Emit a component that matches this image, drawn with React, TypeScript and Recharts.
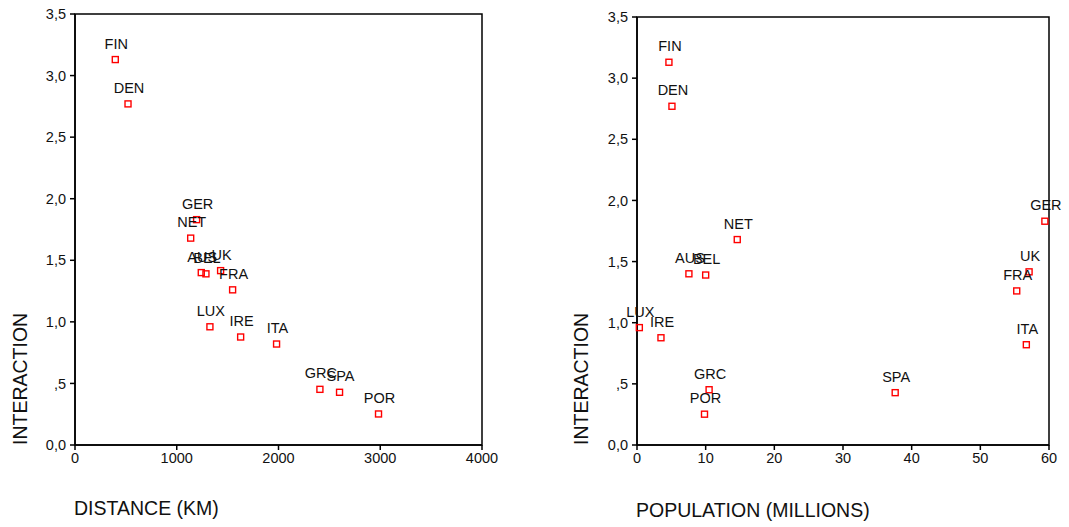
import { ScatterChart, Scatter, XAxis, YAxis, ReferenceArea } from "recharts";

const countries = ["FIN", "DEN", "GER", "NET", "AUS", "BEL", "UK", "FRA", "LUX", "IRE", "ITA", "GRC", "SPA", "POR"];
const interaction = [3.13, 2.77, 1.83, 1.68, 1.4, 1.39, 1.416, 1.26, 0.96, 0.877, 0.82, 0.452, 0.428, 0.252];
const distanceKm = [396, 521, 1195, 1137, 1241, 1287, 1431, 1549, 1326, 1628, 1981, 2407, 2600, 2983];
const populationM = [4.65, 5.09, 59.4, 14.6, 7.56, 10.0, 57.1, 55.3, 0.34, 3.49, 56.7, 10.5, 37.6, 9.83];

const yTicks = [0, 0.5, 1, 1.5, 2, 2.5, 3, 3.5];
const yTickLabels = ["0,0", ",5", "1,0", "1,5", "2,0", "2,5", "3,0", "3,5"];
const distanceTicks = [0, 1000, 2000, 3000, 4000];
const populationTicks = [0, 10, 20, 30, 40, 50, 60];

const FONT = "'Liberation Sans', Arial, sans-serif";
const tickStyle = { fontSize: 14.5, fill: "#111", fontFamily: FONT };

const distanceData = countries.map((name, i) => ({ name, x: distanceKm[i], y: interaction[i] }));
const populationData = countries.map((name, i) => ({ name, x: populationM[i], y: interaction[i] }));

function Marker(props: any) {
  const { cx, cy, payload } = props;
  return (
    <g>
      <rect x={cx - 3} y={cy - 3} width={6} height={6} fill="none" stroke="#ff0000" strokeWidth={1.4} />
      <text x={cx + 1} y={cy - 11} textAnchor="middle" fontSize={14.5} fontFamily={FONT} fill="#111">
        {payload.name}
      </text>
    </g>
  );
}

function Panel({
  data,
  width,
  axisWidth,
  marginTop,
  marginRight,
  xMax,
  xTicks,
  xTitle,
  titleX,
  titleBaseline,
  yTitleX
}: {
  data: Array<{ name: string; x: number; y: number }>;
  width: number;
  axisWidth: number;
  marginTop: number;
  marginRight: number;
  xMax: number;
  xTicks: number[];
  xTitle: string;
  titleX: number;
  titleBaseline: number;
  yTitleX: number;
}) {
  return (
    <ScatterChart width={width} height={527} margin={{ top: marginTop, right: marginRight, bottom: 52, left: 0 }}>
      <ReferenceArea x1={0} x2={xMax} y1={0} y2={3.5} fill="none" stroke="#000" strokeWidth={1.5} strokeOpacity={1} />
      <XAxis
        type="number"
        dataKey="x"
        domain={[0, xMax]}
        ticks={xTicks}
        height={30}
        stroke="#000"
        strokeWidth={1.5}
        tickSize={5}
        tickMargin={3}
        tick={tickStyle}
        label={{
          content: (p: any) => (
            <text x={titleX} y={p.viewBox.y + titleBaseline} fontSize={19.5} fontFamily={FONT} fill="#111">
              {xTitle}
            </text>
          )
        }}
      />
      <YAxis
        type="number"
        dataKey="y"
        domain={[0, 3.5]}
        ticks={yTicks}
        width={axisWidth}
        stroke="#000"
        strokeWidth={1.5}
        tickSize={5}
        tickMargin={4}
        tick={tickStyle}
        tickFormatter={(v: number) => yTickLabels[yTicks.indexOf(v)]}
        label={{
          content: (p: any) => {
            const by = p.viewBox.y + p.viewBox.height;
            return (
              <text
                x={yTitleX}
                y={by}
                transform={`rotate(-90 ${yTitleX} ${by})`}
                textAnchor="start"
                fontSize={19.5}
                fontFamily={FONT}
                fill="#111"
              >
                INTERACTION
              </text>
            );
          }
        }}
      />
      <Scatter data={data} shape={Marker} isAnimationActive={false} />
    </ScatterChart>
  );
}

export default function App() {
  return (
    <div style={{ position: "fixed", left: 0, top: 0, width: 1069, height: 527, background: "#fff" }}>
      <div style={{ position: "absolute", left: 0, top: 0 }}>
        <Panel
          data={distanceData}
          width={540}
          axisWidth={75}
          marginTop={14}
          marginRight={58}
          xMax={4000}
          xTicks={distanceTicks}
          xTitle="DISTANCE (KM)"
          titleX={74}
          titleBaseline={70}
          yTitleX={26.5}
        />
      </div>
      <div style={{ position: "absolute", left: 540, top: 0 }}>
        <Panel
          data={populationData}
          width={529}
          axisWidth={97}
          marginTop={17}
          marginRight={20}
          xMax={60}
          xTicks={populationTicks}
          xTitle="POPULATION (MILLIONS)"
          titleX={96}
          titleBaseline={72}
          yTitleX={48.3}
        />
      </div>
    </div>
  );
}
